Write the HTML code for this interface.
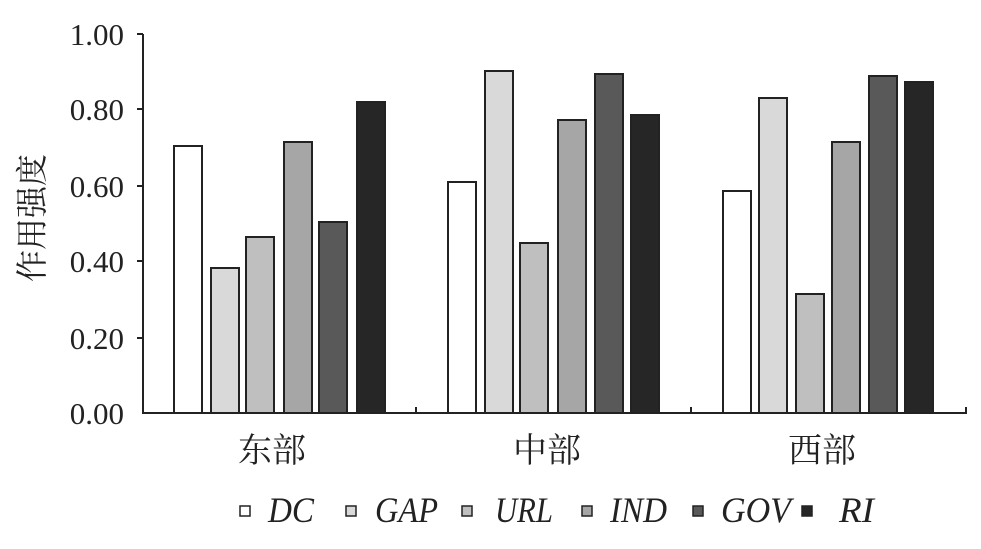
<!DOCTYPE html>
<html><head><meta charset="utf-8"><style>
html,body{margin:0;padding:0;background:#fff;}
svg{display:block;}
</style></head><body>
<svg width="981" height="549" xmlns="http://www.w3.org/2000/svg">
<g stroke="#222" stroke-width="2" fill="none">
<line x1="143" y1="34" x2="143" y2="413"/>
<line x1="142" y1="413" x2="967" y2="413"/>
<line x1="137" y1="34" x2="143" y2="34"/>
<line x1="137" y1="109" x2="143" y2="109"/>
<line x1="137" y1="186" x2="143" y2="186"/>
<line x1="137" y1="261" x2="143" y2="261"/>
<line x1="137" y1="338" x2="143" y2="338"/>
<line x1="416" y1="407" x2="416" y2="413"/>
<line x1="691" y1="407" x2="691" y2="413"/>
<line x1="966" y1="407" x2="966" y2="413"/>
</g>
<g stroke="#222" stroke-width="2">
<rect x="174" y="146" width="28" height="267" fill="#fff"/>
<rect x="211" y="268" width="28" height="145" fill="#d9d9d9"/>
<rect x="246" y="237" width="28" height="176" fill="#bfbfbf"/>
<rect x="284" y="142" width="28" height="271" fill="#a6a6a6"/>
<rect x="319" y="222" width="28" height="191" fill="#595959"/>
<rect x="357" y="102" width="28" height="311" fill="#262626"/>

<rect x="448" y="182" width="28" height="231" fill="#fff"/>
<rect x="485" y="71" width="28" height="342" fill="#d9d9d9"/>
<rect x="520" y="243" width="28" height="170" fill="#bfbfbf"/>
<rect x="558" y="120" width="28" height="293" fill="#a6a6a6"/>
<rect x="595" y="74" width="28" height="339" fill="#595959"/>
<rect x="631" y="115" width="28" height="298" fill="#262626"/>

<rect x="723" y="191" width="28" height="222" fill="#fff"/>
<rect x="759" y="98" width="28" height="315" fill="#d9d9d9"/>
<rect x="796" y="294" width="28" height="119" fill="#bfbfbf"/>
<rect x="832" y="142" width="28" height="271" fill="#a6a6a6"/>
<rect x="869" y="76" width="28" height="337" fill="#595959"/>
<rect x="905" y="82" width="28" height="331" fill="#262626"/>
</g>
<g font-family="Liberation Serif, serif" font-size="31" fill="#222" text-anchor="end">
<text x="124" y="45">1.00</text>
<text x="124" y="120">0.80</text>
<text x="124" y="197">0.60</text>
<text x="124" y="272">0.40</text>
<text x="124" y="349">0.20</text>
<text x="124" y="424">0.00</text>
</g>
<text transform="translate(43,218) rotate(-90)" text-anchor="middle" font-family="Liberation Serif, 'Noto Serif CJK SC', serif" font-size="32" fill="#222">作用强度</text>
<g font-family="Liberation Serif, 'Noto Serif CJK SC', serif" font-size="34" fill="#222" text-anchor="middle">
<text x="272" y="462">东部</text>
<text x="547" y="462">中部</text>
<text x="822" y="462">西部</text>
</g>
<g stroke="#222" stroke-width="1.5">
<rect x="240" y="506" width="10" height="10" fill="#fff"/>
<rect x="346" y="506" width="10" height="10" fill="#d9d9d9"/>
<rect x="462" y="506" width="10" height="10" fill="#bfbfbf"/>
<rect x="582" y="506" width="10" height="10" fill="#a6a6a6"/>
<rect x="693" y="506" width="10" height="10" fill="#595959"/>
<rect x="802" y="506" width="10" height="10" fill="#262626"/>
</g>
<g font-family="Liberation Serif, serif" font-style="italic" font-size="36" fill="#222">
<text x="268" y="522" textLength="46" lengthAdjust="spacingAndGlyphs">DC</text>
<text x="375" y="522" textLength="63" lengthAdjust="spacingAndGlyphs">GAP</text>
<text x="495" y="522" textLength="58" lengthAdjust="spacingAndGlyphs">URL</text>
<text x="610" y="522" textLength="57" lengthAdjust="spacingAndGlyphs">IND</text>
<text x="721" y="522" textLength="70" lengthAdjust="spacingAndGlyphs">GOV</text>
<text x="839" y="522" textLength="35" lengthAdjust="spacingAndGlyphs">RI</text>
</g>
</svg>
</body></html>
